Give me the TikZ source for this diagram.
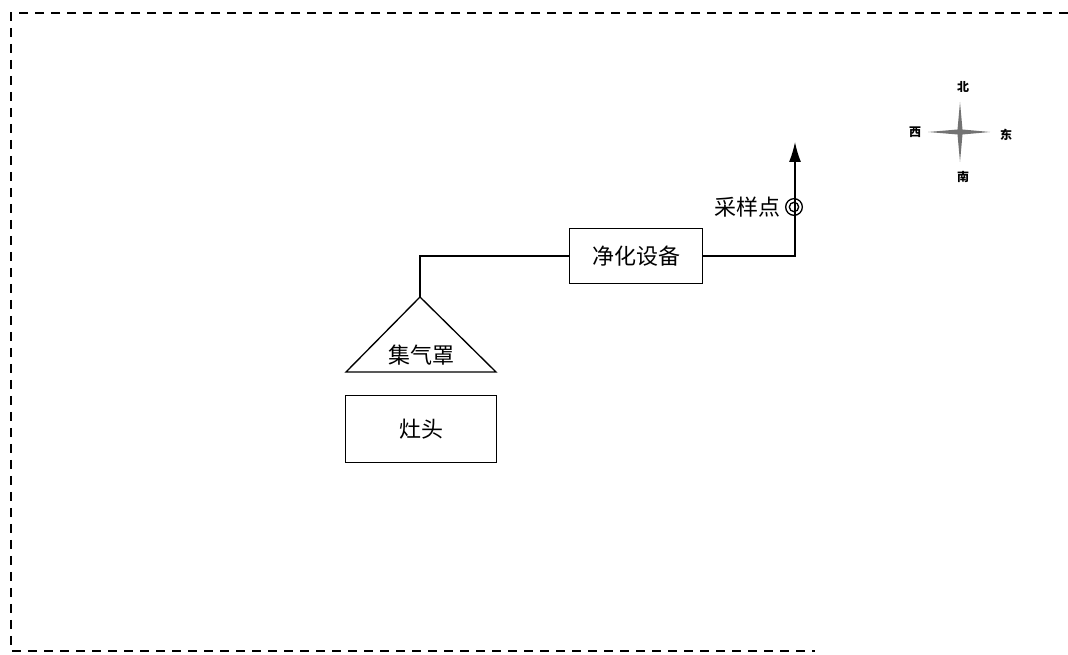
\documentclass[tikz,border=0pt]{standalone}
\usepackage{fontspec}
\newfontfamily\cjk{Noto Sans CJK SC}
\usetikzlibrary{arrows.meta,positioning}
\tikzset{
    flow/.style={x=0.75pt,y=-0.75pt,line width=1pt,line join=miter},
    unit/.style={draw,rectangle,line width=1pt,minimum width=113pt,minimum height=50pt,font=\cjk\fontsize{16.5}{16.5}\selectfont},
    unitwide/.style={unit,minimum width=100pt,minimum height=41pt},
    tag/.style={inner sep=0pt,font=\cjk\fontsize{16.5}{16.5}\selectfont},
    dir/.style={inner sep=0pt,font=\cjk\bfseries\fontsize{9}{9}\selectfont},
    frame/.style={line width=1.5pt,dash pattern=on 7pt off 5pt},
    }
\begin{document}
\begin{tikzpicture}[flow]
    \useasboundingbox (0,0) rectangle (1068,655);
    % outer frame
    \draw[frame] (1068,13) -- (11,13) -- (11,651) -- (815,651);

    % stove and hood
    \node[unit] (stove) at (421,429) {灶头};
    \coordinate (apex) at (420,297);
    \coordinate (hl) at (346,372);
    \coordinate (hr) at (496,372);
    \draw (apex) -- (hl) -- (hr) -- cycle;
    \node[tag] (hood) at (421,355) {集气罩};

    % purifier
    \node[unitwide] (clean) at (636,256) {净化设备};
    \draw (apex) |- (clean.west);

    % stack with sampling point
    \coordinate (top) at (795,142);
    \draw[-{Latex[length=15pt,width=9pt]}] (clean.east) -| (top);
    \node[draw,circle,minimum size=12.5pt,inner sep=0pt] (samp) at (794,207) {};
    \node[draw,circle,minimum size=7pt,inner sep=0pt] at (samp) {};
    \node[tag] (samptxt) [left=3pt of samp] {采样点};

    % compass
    \coordinate (c) at (960,132);
    \fill[black!55] (960,102) -- (962.5,129.5) -- (990,132) -- (962.5,134.5)
        -- (960,162) -- (957.5,134.5) -- (928,132) -- (957.5,129.5) -- cycle;
    \node[dir] (n) at (963,87) {北};
    \node[dir] (s) at (963,177) {南};
    \node[dir] (w) at (915,132) {西};
    \node[dir] (e) at (1006,135) {东};
\end{tikzpicture}
\end{document}
